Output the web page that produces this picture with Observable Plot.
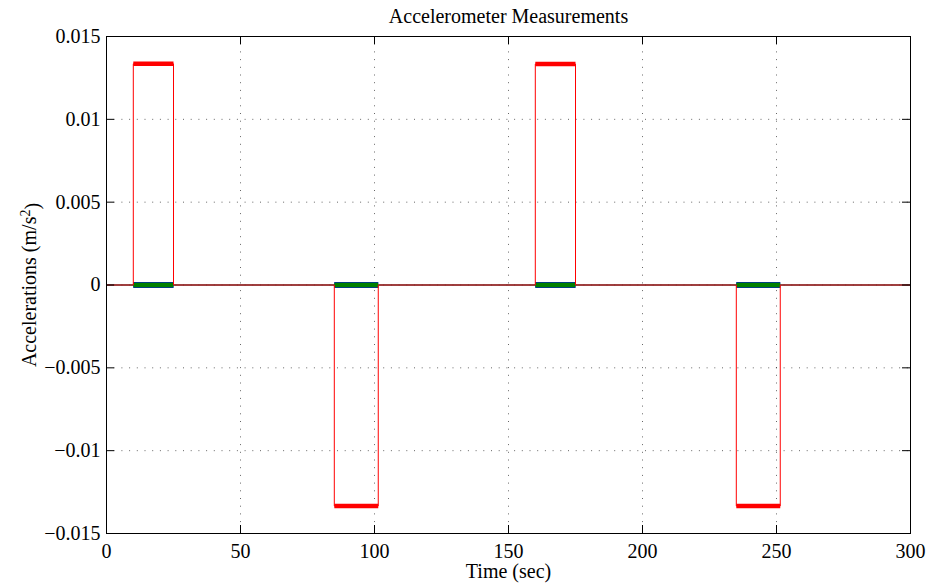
<!DOCTYPE html>
<html>
<head>
<meta charset="utf-8">
<script src="https://cdn.jsdelivr.net/npm/d3@7"></script>
<script src="https://cdn.jsdelivr.net/npm/@observablehq/plot@0.6"></script>
<style>
  html, body { margin: 0; padding: 0; background: #fff; }
</style>
</head>
<body>
<div id="chart"></div>
<script>
// ---- data ----
const pulseStart = [10, 85, 160, 235];
const pulseEnd = [25, 101.4, 175, 251.4];
const redLevel = [0.01335, -0.01334, 0.01334, -0.01334];
const blueLevel = [0, 0, 0, 0];
const greenLevel = [0, 0, 0, 0];
const timeRange = [0, 300];
const xTicks = [0, 50, 100, 150, 200, 250, 300];
const yTicks = [-0.015, -0.01, -0.005, 0, 0.005, 0.01, 0.015];
const yTickLabels = ["\u22120.015", "\u22120.01", "\u22120.005", "0", "0.005", "0.01", "0.015"];
const titleText = "Accelerometer Measurements";
const xLabel = "Time (sec)";
const yLabel = "Accelerations (m/s2)";

function stepSeries(levels) {
  const pts = [{t: timeRange[0], v: 0}];
  pulseStart.forEach((s, i) => {
    pts.push({t: s, v: 0}, {t: s, v: levels[i]}, {t: pulseEnd[i], v: levels[i]}, {t: pulseEnd[i], v: 0});
  });
  pts.push({t: timeRange[1], v: 0});
  return pts;
}
function plateaus(levels) {
  return pulseStart.map((s, i) => ({t1: s, t2: pulseEnd[i], v: levels[i]}));
}

const series = [
  {levels: blueLevel, color: "#0000ff", band: 6},
  {levels: greenLevel, color: "#008000", band: 5},
  {levels: redLevel, color: "#ff0000", band: 4.5}
];

const W = 927, H = 584, mL = 106, mR = 17, mT = 36, mB = 51;
const pw = W - mL - mR, ph = H - mT - mB;
const FONT = "'Liberation Serif', 'Times New Roman', serif";
const gridStyle = {stroke: "#000", strokeOpacity: 0.6, strokeDasharray: "1,6.7"};

const lineMarks = [];
for (const s of series) {
  lineMarks.push(Plot.line(stepSeries(s.levels), {x: "t", y: "v", stroke: s.color, strokeWidth: 1, strokeLinecap: "butt", strokeLinejoin: "miter"}));
  lineMarks.push(Plot.link(plateaus(s.levels), {x1: "t1", x2: "t2", y1: "v", y2: "v", stroke: s.color, strokeWidth: s.band, strokeLinecap: "butt"}));
}

const plot = Plot.plot({
  width: W, height: H,
  marginLeft: mL, marginRight: mR, marginTop: mT, marginBottom: mB,
  style: {fontFamily: FONT, fontSize: "20px", background: "#fff", color: "#000", overflow: "visible"},
  x: {domain: timeRange},
  y: {domain: [yTicks[0], yTicks[yTicks.length - 1]]},
  marks: [
    Plot.gridX(xTicks, gridStyle),
    Plot.gridY(yTicks, gridStyle),
    ...lineMarks,
    Plot.frame({stroke: "#000", strokeWidth: 1}),
    Plot.tickX(xTicks, {x: d => d, insetTop: ph - 8, stroke: "#000", strokeOpacity: 1}),
    Plot.tickX(xTicks, {x: d => d, insetBottom: ph - 8, stroke: "#000", strokeOpacity: 1}),
    Plot.tickY(yTicks, {y: d => d, insetRight: pw - 8, stroke: "#000", strokeOpacity: 1}),
    Plot.tickY(yTicks, {y: d => d, insetLeft: pw - 8, stroke: "#000", strokeOpacity: 1}),
    Plot.axisX(xTicks, {tickSize: 0, tickPadding: 10, label: null, fontSize: 20, fontFamily: FONT}),
    Plot.axisY(yTicks, {tickSize: 0, tickPadding: 6, label: null, fontSize: 20, fontFamily: FONT, tickFormat: d => yTickLabels[yTicks.indexOf(d)]}),
    Plot.text([titleText], {frameAnchor: "top", lineAnchor: "middle", textAnchor: "middle", dy: -19.5, fontSize: 20, fontFamily: FONT}),
    Plot.text([xLabel], {frameAnchor: "bottom", lineAnchor: "middle", textAnchor: "middle", dy: 38.5, fontSize: 20, fontFamily: FONT}),
    Plot.text([yLabel], {frameAnchor: "left", lineAnchor: "middle", textAnchor: "middle", dx: -77, rotate: -90, fontSize: 20, fontFamily: FONT})
  ]
});

// force the serif face on every text element
d3.select(plot).selectAll("text").style("font-family", FONT).attr("font-family", FONT);

// turn the trailing "2" of the y label into a real superscript
d3.select(plot).selectAll("text").filter(function() { return this.textContent === yLabel; }).each(function() {
  const t = d3.select(this);
  t.text("Accelerations (m/s");
  t.append("tspan").attr("dy", "-0.45em").attr("font-size", "70%").text("2");
  t.append("tspan").attr("dy", "0.45em").text(")");
});

document.getElementById("chart").appendChild(plot);
</script>
</body>
</html>
